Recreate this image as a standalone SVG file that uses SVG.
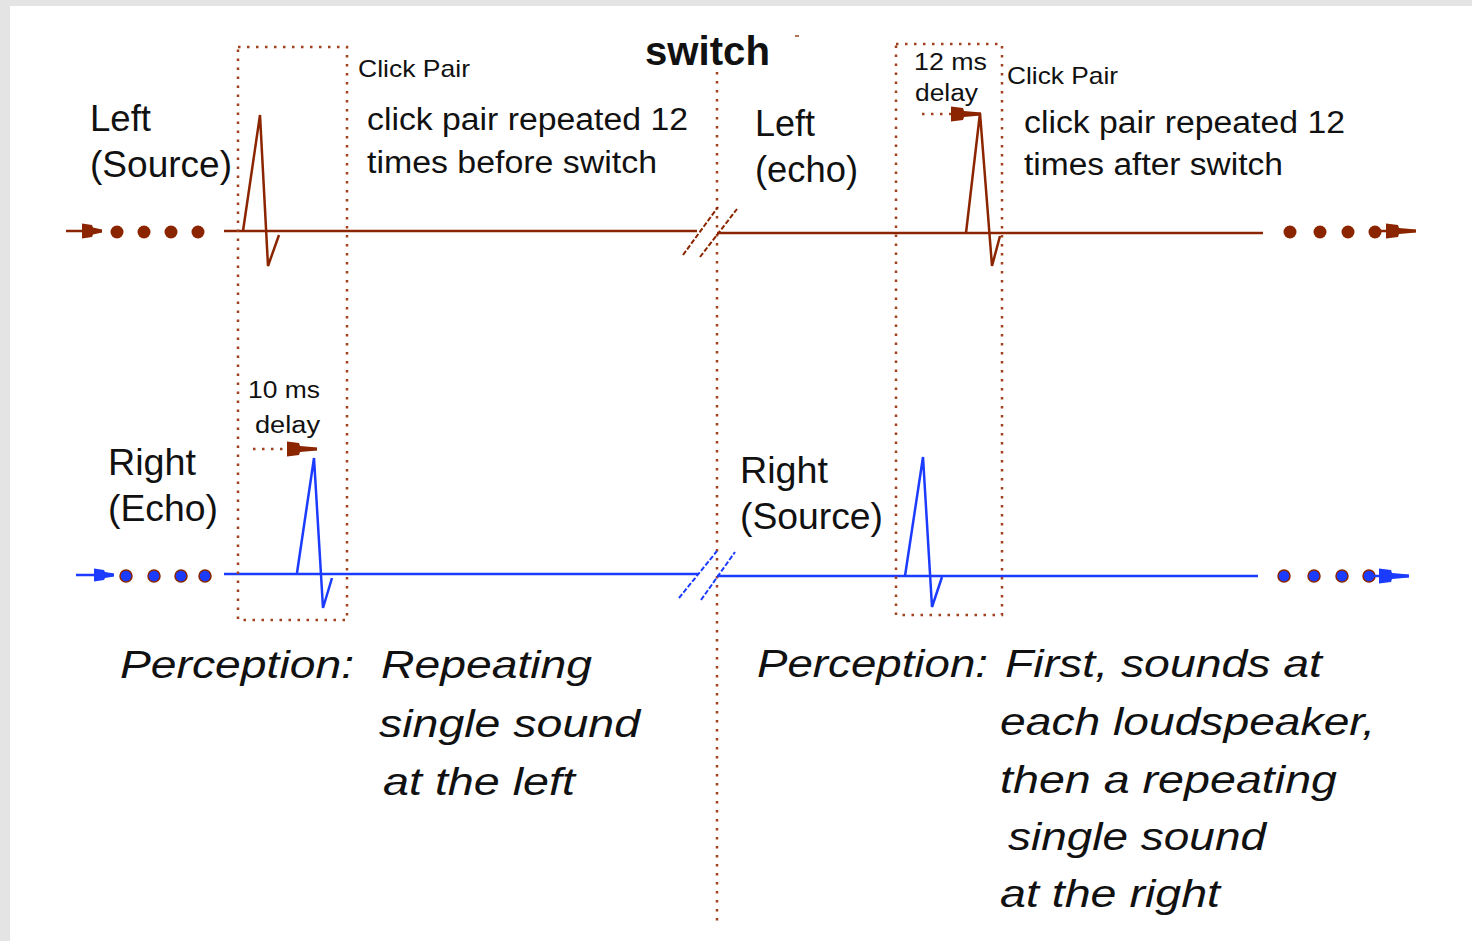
<svg xmlns="http://www.w3.org/2000/svg" width="1472" height="941" viewBox="0 0 1472 941">
<style>
  text { font-family: "Liberation Sans", Arial, sans-serif; fill: #111; }
  .big { font-size: 36px; }
  .mid { font-size: 31px; }
  .small { font-size: 24px; }
  .tiny { font-size: 23px; }
  .title { font-size: 40px; font-weight: bold; }
  .perc { font-size: 38px; font-style: italic; }
  .dotted { fill: none; stroke: #A0421E; stroke-width: 2.5; stroke-dasharray: 2.5 6.5; }
  .brownline { fill: none; stroke: #8B2500; stroke-width: 2.5; }
  .blueline { fill: none; stroke: #1B3BFF; stroke-width: 2.5; }
  .brownpulse { fill: none; stroke: #8B2500; stroke-width: 2.5; stroke-linejoin: miter; }
  .bluepulse { fill: none; stroke: #1B3BFF; stroke-width: 2.5; }
  .browndot { fill: #8B2500; }
  .bluedot { fill: #1B3BFF; stroke: #8B2500; stroke-width: 1.5; }
  .brownslash { fill: none; stroke: #8B2500; stroke-width: 2; stroke-dasharray: 5 2; }
  .blueslash { fill: none; stroke: #1B3BFF; stroke-width: 2; stroke-dasharray: 5 2; }
</style>
<defs>
  <marker id="arrowBrown" markerUnits="userSpaceOnUse" markerWidth="32" markerHeight="18" refX="30" refY="8" orient="auto" viewBox="0 0 32 18">
    <path d="M0,0.5 L12,2 L13,5 L30,6.5 L30,9.5 L13,11 L12,14 L0,15.5 Z" fill="#8B2500"/>
  </marker>
  <marker id="arrowBlue" markerUnits="userSpaceOnUse" markerWidth="32" markerHeight="18" refX="30" refY="8" orient="auto" viewBox="0 0 32 18">
    <path d="M0,0.5 L12,2 L13,5 L30,6.5 L30,9.5 L13,11 L12,14 L0,15.5 Z" fill="#1B3BFF"/>
  </marker>
  <marker id="arrowSmallBrown" markerUnits="userSpaceOnUse" markerWidth="22" markerHeight="18" refX="20" refY="8" orient="auto" viewBox="0 0 22 18">
    <path d="M0,0.5 L10,2 L11,4.5 L20,6.5 L20,9.5 L11,11.5 L10,14 L0,15.5 Z" fill="#8B2500"/>
  </marker>
  <marker id="arrowSmallBlue" markerUnits="userSpaceOnUse" markerWidth="22" markerHeight="18" refX="20" refY="8" orient="auto" viewBox="0 0 22 18">
    <path d="M0,1.5 L10,3 L11,5 L20,6.5 L20,9.5 L11,11 L10,13 L0,14.5 Z" fill="#1B3BFF"/>
  </marker>
</defs>

<g id="background">
  <rect x="0" y="0" width="1472" height="941" fill="#e4e4e4"/>
  <rect x="10" y="6" width="1462" height="935" fill="#ffffff"/>
</g>

<g id="switch-divider">
  <line class="dotted" x1="717" y1="72" x2="717" y2="922"/>
  <text class="title" x="645" y="65" textLength="125" lengthAdjust="spacingAndGlyphs">switch</text>
  <line x1="795" y1="36" x2="799" y2="36" stroke="#A0421E" stroke-width="1.5"/>
</g>

<g id="connectors">
  <!-- top (brown) track, before switch -->
  <line class="brownline" x1="66" y1="231" x2="102" y2="231" marker-end="url(#arrowSmallBrown)"/>
  <circle class="browndot" cx="117" cy="232" r="6.5"/>
  <circle class="browndot" cx="144" cy="232" r="6.5"/>
  <circle class="browndot" cx="171" cy="232" r="6.5"/>
  <circle class="browndot" cx="198" cy="232" r="6.5"/>
  <line class="brownline" x1="224" y1="231" x2="697" y2="231"/>
  <line class="brownslash" x1="683" y1="255" x2="718" y2="207"/>
  <line class="brownslash" x1="700" y1="257" x2="737" y2="209"/>
  <!-- top track after switch -->
  <line class="brownline" x1="717" y1="233" x2="1263" y2="233"/>
  <circle class="browndot" cx="1290" cy="232" r="6.5"/>
  <circle class="browndot" cx="1320" cy="232" r="6.5"/>
  <circle class="browndot" cx="1348" cy="232" r="6.5"/>
  <circle class="browndot" cx="1375" cy="232" r="6.5"/>
  <line class="brownline" x1="1378" y1="231" x2="1416" y2="231" marker-end="url(#arrowBrown)"/>

  <!-- bottom (blue) track, before switch -->
  <line class="blueline" x1="76" y1="575" x2="114" y2="575" marker-end="url(#arrowSmallBlue)"/>
  <circle class="bluedot" cx="126" cy="576" r="6"/>
  <circle class="bluedot" cx="154" cy="576" r="6"/>
  <circle class="bluedot" cx="181" cy="576" r="6"/>
  <circle class="bluedot" cx="205" cy="576" r="6"/>
  <line class="blueline" x1="224" y1="574" x2="698" y2="574"/>
  <line class="blueslash" x1="679" y1="598" x2="717" y2="551"/>
  <line class="blueslash" x1="701" y1="600" x2="735" y2="552"/>
  <!-- bottom track after switch -->
  <line class="blueline" x1="717" y1="576" x2="1258" y2="576"/>
  <circle class="bluedot" cx="1284" cy="576" r="6"/>
  <circle class="bluedot" cx="1314" cy="576" r="6"/>
  <circle class="bluedot" cx="1342" cy="576" r="6"/>
  <circle class="bluedot" cx="1369" cy="576" r="6"/>
  <line class="blueline" x1="1372" y1="576" x2="1409" y2="576" marker-end="url(#arrowBlue)"/>

  <!-- delay arrows -->
  <line class="dotted" x1="253" y1="449" x2="286" y2="449"/>
  <line class="brownline" x1="288" y1="449" x2="317" y2="449" stroke-width="1" marker-end="url(#arrowBrown)"/>
  <line class="dotted" x1="922" y1="114" x2="953" y2="114"/>
  <line class="brownline" x1="954" y1="114" x2="981" y2="114" stroke-width="1" marker-end="url(#arrowBrown)"/>
</g>

<g id="click-pair-before">
  <rect class="dotted" x="238" y="47" width="109" height="573"/>
  <polyline class="brownpulse" points="243,231 260,115 268,266 279,235"/>
  <polyline class="bluepulse" points="297,573 314,458 323,608 332,578"/>
  <text class="small" x="358" y="77" textLength="112" lengthAdjust="spacingAndGlyphs">Click Pair</text>
  <text class="tiny" x="248" y="398" textLength="72" lengthAdjust="spacingAndGlyphs">10 ms</text>
  <text class="tiny" x="255" y="433" textLength="65" lengthAdjust="spacingAndGlyphs">delay</text>
</g>

<g id="click-pair-after">
  <rect class="dotted" x="896" y="44" width="106" height="571"/>
  <polyline class="brownpulse" points="966,233 980,113 992,266 1000,236"/>
  <polyline class="bluepulse" points="905,576 923,457 932,607 942,577"/>
  <text class="small" x="1007" y="84" textLength="111" lengthAdjust="spacingAndGlyphs">Click Pair</text>
  <text class="tiny" x="914" y="70" textLength="73" lengthAdjust="spacingAndGlyphs">12 ms</text>
  <text class="tiny" x="915" y="101" textLength="63" lengthAdjust="spacingAndGlyphs">delay</text>
</g>

<g id="label-left-source">
  <text class="big" x="90" y="131" textLength="61" lengthAdjust="spacingAndGlyphs">Left</text>
  <text class="big" x="90" y="177" textLength="142" lengthAdjust="spacingAndGlyphs">(Source)</text>
</g>
<g id="label-right-echo">
  <text class="big" x="108" y="475" textLength="88" lengthAdjust="spacingAndGlyphs">Right</text>
  <text class="big" x="108" y="521" textLength="110" lengthAdjust="spacingAndGlyphs">(Echo)</text>
</g>
<g id="label-left-echo">
  <text class="big" x="755" y="136" textLength="60" lengthAdjust="spacingAndGlyphs">Left</text>
  <text class="big" x="755" y="182" textLength="103" lengthAdjust="spacingAndGlyphs">(echo)</text>
</g>
<g id="label-right-source">
  <text class="big" x="740" y="483" textLength="88" lengthAdjust="spacingAndGlyphs">Right</text>
  <text class="big" x="740" y="529" textLength="143" lengthAdjust="spacingAndGlyphs">(Source)</text>
</g>

<g id="note-before">
  <text class="mid" x="367" y="130" textLength="321" lengthAdjust="spacingAndGlyphs">click pair repeated 12</text>
  <text class="mid" x="367" y="173" textLength="290" lengthAdjust="spacingAndGlyphs">times before switch</text>
</g>
<g id="note-after">
  <text class="mid" x="1024" y="133" textLength="321" lengthAdjust="spacingAndGlyphs">click pair repeated 12</text>
  <text class="mid" x="1024" y="175" textLength="259" lengthAdjust="spacingAndGlyphs">times after switch</text>
</g>

<g id="perception-before">
  <text class="perc" x="120" y="678" textLength="234" lengthAdjust="spacingAndGlyphs">Perception:</text>
  <text class="perc" x="381" y="678" textLength="211" lengthAdjust="spacingAndGlyphs">Repeating</text>
  <text class="perc" x="379" y="737" textLength="261" lengthAdjust="spacingAndGlyphs">single sound</text>
  <text class="perc" x="383" y="795" textLength="192" lengthAdjust="spacingAndGlyphs">at the left</text>
</g>
<g id="perception-after">
  <text class="perc" x="757" y="677" textLength="231" lengthAdjust="spacingAndGlyphs">Perception:</text>
  <text class="perc" x="1005" y="677" textLength="317" lengthAdjust="spacingAndGlyphs">First, sounds at</text>
  <text class="perc" x="1000" y="735" textLength="375" lengthAdjust="spacingAndGlyphs">each loudspeaker,</text>
  <text class="perc" x="1000" y="793" textLength="337" lengthAdjust="spacingAndGlyphs">then a repeating</text>
  <text class="perc" x="1008" y="850" textLength="258" lengthAdjust="spacingAndGlyphs">single sound</text>
  <text class="perc" x="1000" y="907" textLength="220" lengthAdjust="spacingAndGlyphs">at the right</text>
</g>
</svg>
